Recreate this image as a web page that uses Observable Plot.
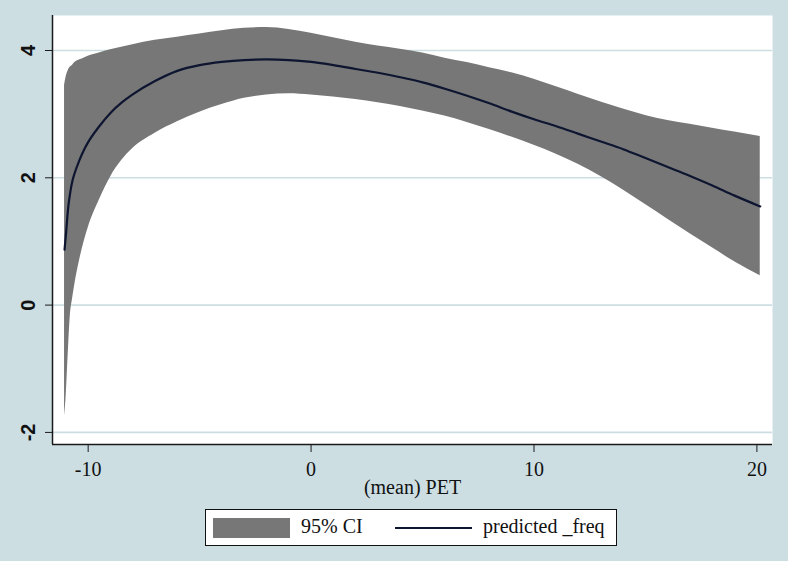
<!DOCTYPE html>
<html>
<head>
<meta charset="utf-8">
<script src="https://cdn.jsdelivr.net/npm/d3@7"></script>
<script src="https://cdn.jsdelivr.net/npm/@observablehq/plot@0.6"></script>
<style>
  html, body { margin: 0; padding: 0; background: #cddee3; }
  #wrap { position: relative; width: 788px; height: 561px; overflow: hidden; }
  #legend {
    position: absolute; left: 205px; top: 509px; width: 410px; height: 35px;
    border: 1.5px solid #111; background: #fff;
    font-family: "Liberation Serif", "Times New Roman", serif; font-size: 20px; color: #111;
  }
  #legend .sw { position: absolute; left: 7px; top: 8px; width: 77px; height: 20px; background: #777777; }
  #legend .t1 { position: absolute; left: 95px; top: 5px; }
  #legend .ln { position: absolute; left: 189px; top: 17px; width: 77px; height: 2px; background: #0d1530; }
  #legend .t2 { position: absolute; left: 277px; top: 5px; }
</style>
</head>
<body>
<div id="wrap">
  <div id="chart"></div>
  <div id="legend">
    <div class="sw"></div><div class="t1">95% CI</div>
    <div class="ln"></div><div class="t2">predicted _freq</div>
  </div>
</div>
<script>
// (mean) PET values
const pet = [-11.06, -11.0, -10.9, -10.8, -10.7, -10.6, -10.4, -10.2, -10.0, -9.5, -9.0, -8.5, -8.0,
  -7, -6, -5, -4, -3, -2, -1, 0, 1, 2, 3, 4, 5, 6, 7, 8, 9, 10, 11, 12, 13, 14, 15, 16, 17, 18, 19, 20.15];
// predicted _freq
const fit = [0.87, 1.10, 1.52, 1.78, 1.96, 2.08, 2.27, 2.43, 2.56, 2.81, 3.02, 3.18, 3.31,
  3.52, 3.68, 3.77, 3.82, 3.85, 3.86, 3.85, 3.82, 3.77, 3.71, 3.65, 3.58, 3.50, 3.40, 3.29, 3.17, 3.04, 2.92,
  2.81, 2.69, 2.57, 2.45, 2.31, 2.17, 2.03, 1.88, 1.72, 1.55];
// 95% CI lower bound
const lo = [-1.74, -1.50, -0.80, -0.16, 0.10, 0.32, 0.68, 0.97, 1.21, 1.65, 2.01, 2.27, 2.46,
  2.70, 2.88, 3.03, 3.15, 3.25, 3.30, 3.32, 3.30, 3.27, 3.23, 3.18, 3.12, 3.05, 2.97, 2.87, 2.76, 2.64, 2.51,
  2.37, 2.21, 2.02, 1.81, 1.58, 1.35, 1.12, 0.90, 0.68, 0.46];
// 95% CI upper bound
const hi = [3.45, 3.57, 3.68, 3.74, 3.77, 3.81, 3.85, 3.88, 3.91, 3.96, 4.01, 4.05, 4.09,
  4.16, 4.21, 4.26, 4.31, 4.35, 4.36, 4.33, 4.27, 4.20, 4.13, 4.07, 4.02, 3.96, 3.88, 3.81, 3.73, 3.65, 3.55,
  3.43, 3.31, 3.19, 3.08, 2.98, 2.90, 2.84, 2.78, 2.72, 2.65];
const xTicks = [-10, 0, 10, 20];
const yTicks = [-2, 0, 2, 4];
const xLabel = "(mean) PET";

const data = pet.map((p, i) => ({pet: p, fit: fit[i], lo: lo[i], hi: hi[i]}));
const xDomain = [-11.6, 20.7];
const yDomain = [-2.19, 4.55];
const gridColor = "#cddee3";
const axisColor = "#1a1a1a";

const chart = Plot.plot({
  width: 788,
  height: 505,
  marginLeft: 52,
  marginRight: 16,
  marginTop: 15,
  marginBottom: 61,
  style: {background: "transparent", overflow: "visible"},
  x: {domain: xDomain},
  y: {domain: yDomain},
  marks: [
    Plot.frame({fill: "white", stroke: null}),
    Plot.ruleY(yTicks, {stroke: gridColor, strokeWidth: 1.6}),
    Plot.areaY(data, {x: "pet", y1: "lo", y2: "hi", fill: "#777777", curve: "monotone-x"}),
    Plot.lineY(data, {x: "pet", y: "fit", stroke: "#0d1530", strokeWidth: 2.2, curve: "monotone-x"}),
    Plot.ruleX([xDomain[0]], {stroke: axisColor, strokeWidth: 1.5}),
    Plot.ruleY([yDomain[0]], {stroke: axisColor, strokeWidth: 1.5}),
    Plot.axisX({ticks: xTicks, tickSize: 8, tickPadding: 9, label: null, stroke: axisColor,
      fontSize: 20, fontFamily: "Liberation Serif", fill: "#111", tickFormat: d => String(d)}),
    Plot.axisY({ticks: yTicks, tickSize: 7, tickPadding: 11, tickRotate: -90, label: null, stroke: axisColor,
      fontSize: 20, fontFamily: "Liberation Sans", fontWeight: "bold", fill: "#111", tickFormat: d => String(d)}),
    Plot.text([xLabel], {frameAnchor: "bottom", dy: 49, fontSize: 20, fontFamily: "Liberation Serif", fill: "#111"})
  ]
});
document.getElementById("chart").appendChild(chart);
</script>
</body>
</html>
